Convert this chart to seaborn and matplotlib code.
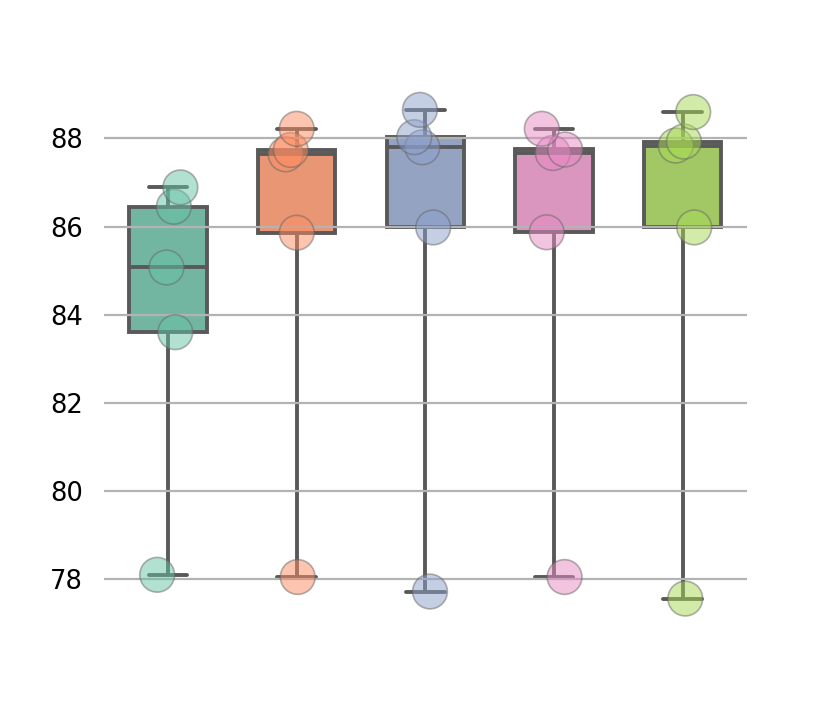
import numpy as np
import pandas as pd
import matplotlib
matplotlib.use("Agg")
import matplotlib.pyplot as plt
import seaborn as sns

groups = ["A", "B", "C", "D", "E"]
vals_a = [78.09, 83.60, 85.07, 86.45, 86.89]
vals_b = [78.04, 85.86, 87.64, 87.74, 88.22]
vals_c = [77.71, 85.98, 87.80, 88.03, 88.65]
vals_d = [78.04, 85.87, 87.67, 87.75, 88.22]
vals_e = [77.55, 85.98, 87.84, 87.93, 88.60]

df = pd.DataFrame({
    "group": np.repeat(groups, 5),
    "score": vals_a + vals_b + vals_c + vals_d + vals_e,
})

sns.set_theme(style="whitegrid")
plt.rcParams["font.family"] = ["DejaVu Sans"]

np.random.seed(7)
fig, ax = plt.subplots(figsize=(4.15, 3.56), dpi=200)
fig.subplots_adjust(left=0.125, right=0.9, bottom=0.125, top=0.88)
sns.boxplot(data=df, x="group", y="score", hue="group", palette="Set2",
            width=0.6, whis=(0, 100), showfliers=False, linewidth=1.4,
            linecolor="0.35", legend=False, ax=ax)
sns.stripplot(data=df, x="group", y="score", hue="group", palette="Set2",
              jitter=0.1, size=12.5, alpha=0.5, linewidth=0.6,
              edgecolor="0.4", legend=False, ax=ax)

ax.set_axisbelow(False)
ax.grid(axis="y", color="0.7", linewidth=0.8)
ax.grid(axis="x", visible=False)
ax.set_xlabel("")
ax.set_ylabel("")
ax.set_xticklabels([])
ax.set_yticks([78, 80, 82, 84, 86, 88])
ax.tick_params(axis="y", labelsize=9.3, labelcolor="black", pad=1.5)
sns.despine(left=True, bottom=True)

fig.savefig("out.png", dpi=200)
